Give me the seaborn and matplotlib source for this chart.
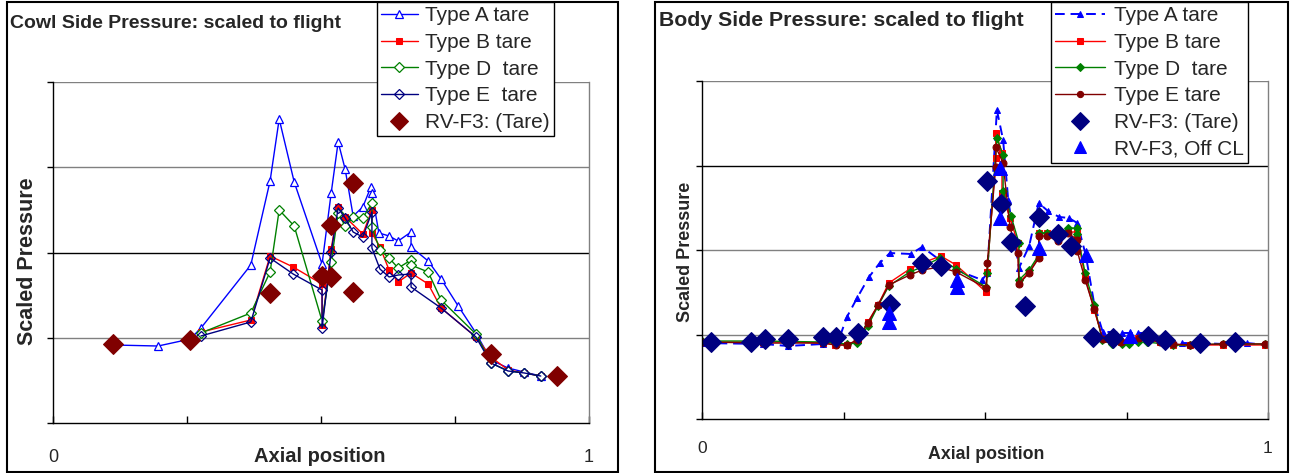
import matplotlib
matplotlib.use("Agg")
import matplotlib.pyplot as plt
from matplotlib.patches import Rectangle
import seaborn as sns
import numpy as np

sns.set_style("white")
plt.rcParams['font.family'] = ['Liberation Sans', 'DejaVu Sans']

# ---------------- Left panel: Cowl side ----------------
cowl_A_x = [0.112,0.196,0.256,0.276,0.369,0.405,0.422,0.450,0.502,0.519,0.532,0.545,0.560,0.578,0.593,0.595,0.608,0.627,0.644,0.668,0.668,0.700,0.724,0.756,0.789,0.817,0.849,0.879,0.910]
cowl_A_y = [0.915,0.903,0.985,1.114,1.853,2.839,3.566,2.827,1.865,2.698,3.296,2.979,2.428,2.534,2.768,2.698,2.229,2.194,2.135,2.240,2.065,1.900,1.689,1.372,1.056,0.739,0.645,0.598,0.551]

cowl_B_x = [0.276,0.369,0.405,0.448,0.502,0.502,0.519,0.532,0.545,0.578,0.595,0.595,0.610,0.627,0.644,0.668,0.700,0.724,0.789,0.817,0.849,0.879,0.910]
cowl_B_y = [1.067,1.208,1.959,1.830,1.630,1.150,2.041,2.534,2.416,2.217,2.499,2.229,2.065,1.795,1.654,1.760,1.630,1.349,1.009,0.774,0.622,0.587,0.551]

cowl_D_x = [0.276,0.369,0.405,0.422,0.450,0.502,0.519,0.532,0.545,0.560,0.578,0.595,0.595,0.610,0.627,0.644,0.668,0.668,0.700,0.724,0.789,0.817,0.849,0.879,0.910]
cowl_D_y = [1.056,1.290,1.771,2.499,2.311,1.196,1.889,2.463,2.311,2.416,2.405,2.581,2.299,2.029,1.935,1.818,1.912,1.853,1.771,1.443,1.044,0.704,0.610,0.587,0.551]

cowl_E_x = [0.276,0.369,0.405,0.448,0.502,0.502,0.519,0.532,0.545,0.560,0.578,0.595,0.595,0.610,0.627,0.644,0.668,0.668,0.724,0.789,0.817,0.849,0.879,0.910]
cowl_E_y = [1.021,1.185,1.935,1.748,1.560,1.114,2.006,2.522,2.405,2.240,2.182,2.475,2.053,1.806,1.713,1.736,1.748,1.595,1.349,1.009,0.704,0.610,0.587,0.551]

cowl_RV_x = [0.112,0.256,0.405,0.502,0.519,0.519,0.560,0.560,0.817,0.940]
cowl_RV_y = [0.927,0.974,1.525,1.724,1.713,2.323,2.815,1.537,0.809,0.551]

# ---------------- Right panel: Body side ----------------
body_A_x = [0.000,0.108,0.152,0.214,0.231,0.244,0.256,0.274,0.295,0.314,0.332,0.369,0.389,0.420,0.449,0.495,0.504,0.521,0.532,0.541,0.560,0.578,0.595,0.611,0.631,0.648,0.663,0.678,0.693,0.708,0.726,0.742,0.756,0.770,0.786,0.818,0.848,0.880,0.920,0.963,0.998]
body_A_y = [0.899,0.888,0.864,0.888,0.947,0.982,1.207,1.432,1.680,1.846,1.964,1.953,2.036,1.882,1.763,1.645,1.728,3.657,3.302,2.592,1.787,2.047,2.556,2.462,2.391,2.379,2.320,1.941,1.361,1.030,1.030,1.018,1.018,1.018,1.018,0.911,0.899,0.899,0.888,0.899,0.876]

body_B_x = [0.000,0.108,0.155,0.214,0.235,0.256,0.276,0.293,0.311,0.330,0.367,0.389,0.422,0.449,0.502,0.504,0.519,0.519,0.530,0.530,0.544,0.558,0.560,0.578,0.595,0.595,0.610,0.629,0.647,0.663,0.663,0.677,0.693,0.708,0.726,0.740,0.770,0.809,0.832,0.862,0.920,0.995]
body_B_y = [0.911,0.911,0.911,0.899,0.876,0.876,0.935,1.148,1.349,1.609,1.775,1.846,1.929,1.822,1.503,1.740,3.089,3.385,3.148,2.675,2.379,2.083,1.609,1.740,1.917,2.201,2.201,2.154,2.213,2.213,2.154,1.680,1.290,0.947,0.923,0.911,0.959,0.911,0.876,0.876,0.876,0.876]

body_D_x = [0.000,0.108,0.214,0.235,0.256,0.274,0.293,0.311,0.330,0.367,0.389,0.420,0.449,0.502,0.504,0.521,0.532,0.532,0.546,0.560,0.560,0.578,0.595,0.595,0.610,0.629,0.647,0.663,0.663,0.677,0.693,0.707,0.724,0.742,0.754,0.770,0.786,0.832,0.862,0.920,0.995]
body_D_y = [0.923,0.923,0.911,0.899,0.888,0.899,1.101,1.337,1.574,1.740,1.799,1.905,1.775,1.562,1.728,3.325,3.124,2.698,2.402,2.083,1.645,1.763,1.941,2.201,2.201,2.178,2.260,2.260,2.189,1.728,1.349,0.935,0.888,0.888,0.888,0.911,0.911,0.876,0.876,0.888,0.888]

body_E_x = [0.000,0.108,0.214,0.237,0.256,0.274,0.293,0.311,0.330,0.367,0.389,0.420,0.449,0.502,0.504,0.519,0.519,0.532,0.544,0.558,0.560,0.578,0.595,0.595,0.610,0.629,0.647,0.663,0.663,0.677,0.693,0.708,0.724,0.740,0.772,0.809,0.832,0.862,0.920,0.995]
body_E_y = [0.911,0.899,0.899,0.876,0.876,0.935,1.136,1.349,1.586,1.704,1.763,1.799,1.740,1.550,1.846,2.982,3.219,3.030,2.272,1.964,1.598,1.728,1.905,2.166,2.166,2.107,2.201,2.118,1.988,1.645,1.302,0.947,0.935,0.911,0.959,0.911,0.888,0.876,0.888,0.888]

body_RV_x = [0.016,0.087,0.111,0.152,0.214,0.237,0.276,0.332,0.389,0.422,0.504,0.528,0.546,0.571,0.595,0.629,0.652,0.691,0.726,0.788,0.818,0.880,0.942]
body_RV_y = [0.911,0.911,0.947,0.947,0.970,0.970,1.018,1.361,1.846,1.811,2.817,2.544,2.095,1.337,2.391,2.189,2.047,0.970,0.959,0.982,0.935,0.899,0.911]

body_CL_x = [0.330,0.330,0.451,0.451,0.527,0.527,0.595,0.678,0.756]
body_CL_y = [1.254,1.148,1.645,1.562,2.970,2.379,2.024,1.941,0.982]

x_ticks = [0, 0.25, 0.5, 0.75, 1.0]
x_ticklabels = ['0', '', '', '', '1']
y_ticks = [0, 1, 2, 3, 4]

W, H = 1290, 473
fig = plt.figure(figsize=(W / 100, H / 100), dpi=100)

axL = fig.add_axes([53 / W, 1 - 423 / H, (589 - 53) / W, (423 - 82) / H])
axR = fig.add_axes([702 / W, 1 - 419 / H, (1268 - 702) / W, (419 - 81) / H])

BLUE = '#0000FF'
RED = '#FF0000'
GREEN = '#008000'
NAVY = '#000080'
MAROON = '#800000'

# Left panel series
sns.lineplot(x=cowl_A_x, y=cowl_A_y, ax=axL, sort=False, estimator=None, color=BLUE,
             lw=1.0, marker='^', markersize=6, markerfacecolor='white', markeredgecolor=BLUE,
             markeredgewidth=0.9, label='Type A tare')
sns.lineplot(x=cowl_B_x, y=cowl_B_y, ax=axL, sort=False, estimator=None, color=RED,
             lw=1.0, marker='s', markersize=5, markerfacecolor=RED, markeredgecolor=RED,
             label='Type B tare')
sns.lineplot(x=cowl_D_x, y=cowl_D_y, ax=axL, sort=False, estimator=None, color=GREEN,
             lw=1.0, marker='D', markersize=5.5, markerfacecolor='white', markeredgecolor=GREEN,
             markeredgewidth=0.9, label='Type D  tare')
sns.lineplot(x=cowl_E_x, y=cowl_E_y, ax=axL, sort=False, estimator=None, color=NAVY,
             lw=1.0, marker='D', markersize=5.5, markerfacecolor='none', markeredgecolor=NAVY,
             markeredgewidth=0.9, label='Type E  tare')
sns.lineplot(x=cowl_RV_x, y=cowl_RV_y, ax=axL, sort=False, estimator=None, color=MAROON,
             linestyle='', marker='D', markersize=10, markerfacecolor=MAROON, markeredgecolor=MAROON,
             label='RV-F3: (Tare)')

# Right panel series
sns.lineplot(x=body_A_x, y=body_A_y, ax=axR, sort=False, estimator=None, color=BLUE,
             lw=1.4, linestyle=(0, (5, 3)), marker='^', markersize=5, markerfacecolor=BLUE,
             markeredgecolor=BLUE, label='Type A tare')
sns.lineplot(x=body_B_x, y=body_B_y, ax=axR, sort=False, estimator=None, color=RED,
             lw=1.0, marker='s', markersize=5, markerfacecolor=RED, markeredgecolor=RED,
             label='Type B tare')
sns.lineplot(x=body_D_x, y=body_D_y, ax=axR, sort=False, estimator=None, color=GREEN,
             lw=1.0, marker='D', markersize=4.5, markerfacecolor=GREEN, markeredgecolor=GREEN,
             label='Type D  tare')
sns.lineplot(x=body_E_x, y=body_E_y, ax=axR, sort=False, estimator=None, color=MAROON,
             lw=1.0, marker='o', markersize=5, markerfacecolor=MAROON, markeredgecolor=MAROON,
             label='Type E tare')
sns.lineplot(x=body_RV_x, y=body_RV_y, ax=axR, sort=False, estimator=None, color=NAVY,
             linestyle='', marker='D', markersize=10, markerfacecolor=NAVY, markeredgecolor=NAVY,
             label='RV-F3: (Tare)')
sns.lineplot(x=body_CL_x, y=body_CL_y, ax=axR, sort=False, estimator=None, color=BLUE,
             linestyle='', marker='^', markersize=10, markerfacecolor=BLUE, markeredgecolor=BLUE,
             label='RV-F3, Off CL')

grid_colors = {'L': ['#808080', '#808080', '#000000', '#808080', '#808080'],
               'R': ['#808080', '#808080', '#808080', '#000000', '#808080']}

for key, ax in (('L', axL), ('R', axR)):
    ax.set_xlim(0, 1)
    ax.set_ylim(0, 4)
    ax.set_xticks(x_ticks)
    ax.set_xticklabels(x_ticklabels)
    ax.set_yticks(y_ticks)
    ax.set_yticklabels([])
    ax.set_facecolor('white')
    for lvl, c in zip(y_ticks[1:], grid_colors[key][1:]):
        ax.axhline(lvl, color=c, lw=1.0, zorder=0.5)
    ax.spines['top'].set_visible(False)
    ax.spines['right'].set_visible(True)
    ax.spines['right'].set_color('#808080')
    ax.spines['right'].set_linewidth(1.0)
    ax.spines['left'].set_color('black')
    ax.spines['bottom'].set_color('black')
    ax.spines['left'].set_linewidth(1.0)
    ax.spines['bottom'].set_linewidth(1.0)
    ax.tick_params(axis='y', direction='out', length=4, width=1, color='black', left=True)
    ax.tick_params(axis='x', direction='in', length=5, width=1, color='black', bottom=True,
                   labelsize=13, pad=19)
    ax.get_legend().remove()

axL.set_xlabel('Axial position', fontsize=14.5, fontweight='bold', va='center')
axL.xaxis.set_label_coords(0.498, -0.097)
axL.set_ylabel('Scaled Pressure', fontsize=15.5, fontweight='bold', va='center')
axL.yaxis.set_label_coords(-0.0485, 0.475)

axR.set_xlabel('Axial position', fontsize=12.8, fontweight='bold', va='center')
axR.xaxis.set_label_coords(0.502, -0.1065)
axR.set_ylabel('Scaled Pressure', fontsize=13, fontweight='bold', va='center')
axR.yaxis.set_label_coords(-0.030, 0.494)
axR.tick_params(axis='x', labelsize=12.5, pad=16)

fig.text(10 / W, 1 - 24 / H, 'Cowl Side Pressure: scaled to flight', fontsize=14,
         fontweight='bold', ha='left', va='center')
fig.text(659 / W, 1 - 20 / H, 'Body Side Pressure: scaled to flight', fontsize=15.3,
         fontweight='bold', ha='left', va='center')

# Panel frames
fig.add_artist(Rectangle((7 / W, 1 / H), (618 - 7) / W, (471 - 1) / H, transform=fig.transFigure,
                         fill=False, ec='black', lw=1.5))
fig.add_artist(Rectangle((655 / W, 1 / H), (1288 - 655) / W, (471 - 1) / H, transform=fig.transFigure,
                         fill=False, ec='black', lw=1.5))

hL, lL = axL.get_legend_handles_labels()
legL = fig.legend(hL, lL, loc='upper left', bbox_to_anchor=(377 / W, 1 - 2 / H),
                  fontsize=15, frameon=True, fancybox=False, framealpha=1, edgecolor='black',
                  handlelength=1.75, handletextpad=0.35, labelspacing=0.37, borderpad=0.2,
                  borderaxespad=0, markerscale=0.9)
legL.get_frame().set_linewidth(1.0)

hR, lR = axR.get_legend_handles_labels()
legR = fig.legend(hR, lR, loc='upper left', bbox_to_anchor=(1051 / W, 1 - 2 / H),
                  fontsize=15, frameon=True, fancybox=False, framealpha=1, edgecolor='black',
                  handlelength=2.4, handletextpad=0.4, labelspacing=0.37, borderpad=0.2,
                  borderaxespad=0, markerscale=0.9)
legR.get_frame().set_linewidth(1.0)

fig.savefig('out.png', dpi=100)
